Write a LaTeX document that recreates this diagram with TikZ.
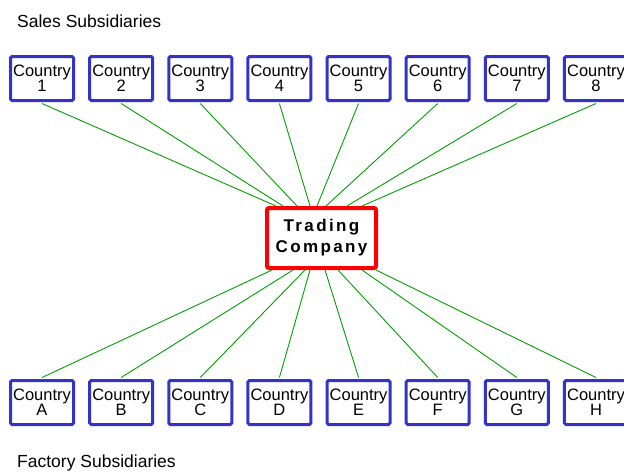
\documentclass[tikz,border=0pt]{standalone}
\usepackage{fontspec}
\setmainfont{Liberation Sans}
\newfontfamily\tcfont[LetterSpace=14]{Liberation Sans}
\definecolor{boxblue}{RGB}{51,51,204}
\definecolor{linkgreen}{RGB}{0,160,0}
\begin{document}
\begin{tikzpicture}[x=1pt,y=-1pt,
  cbox/.style={draw=boxblue,line width=3pt,rounded corners=1.5pt,fill=white,
    minimum width=63pt,minimum height=44pt,inner sep=0pt,align=center,
    font=\fontsize{16.5}{15}\selectfont},
  tbox/.style={draw=red,line width=4pt,rounded corners=2pt,fill=white,
    minimum width=109pt,minimum height=60pt,inner sep=0pt,align=center,
    font=\tcfont\bfseries\fontsize{17}{21}\selectfont},
  link/.style={draw=linkgreen,line width=0.9pt},
  lbl/.style={anchor=base west,inner sep=0pt,font=\fontsize{17.5}{20}\selectfont}]
\useasboundingbox (0,0) rectangle (624,472);
\node[tbox] (tc) at (321.5,238) {Trading\\Company};
\foreach \n [count=\i from 0] in {1,...,8}{
  \node[cbox] (t\n) at ({42+79.14*\i},78.5) {Country\\\n};
}
\foreach \n/\m [count=\i from 0] in {A/1,B/2,C/3,D/4,E/5,F/6,G/7,H/8}{
  \node[cbox] (b\m) at ({42+79.14*\i},402.5) {Country\\\n};
}
\foreach \m/\d in {1/11,2/18,3/32,4/45,5/52,6/61,7/82,8/97}{
  \draw[link] ([yshift=-1.5pt]t\m.south) -- ([xshift=\d pt]tc.north west);
}
\foreach \m/\d in {1/7,2/28,3/40,4/45,5/60,6/73,7/97,8/111}{
  \draw[link] ([yshift=1.5pt]b\m.north) -- ([xshift=\d pt]tc.south west);
}
\node[lbl] (sales) at (17,27) {Sales Subsidiaries};
\node[lbl] (fact) at (17,467) {Factory Subsidiaries};
\end{tikzpicture}
\end{document}
